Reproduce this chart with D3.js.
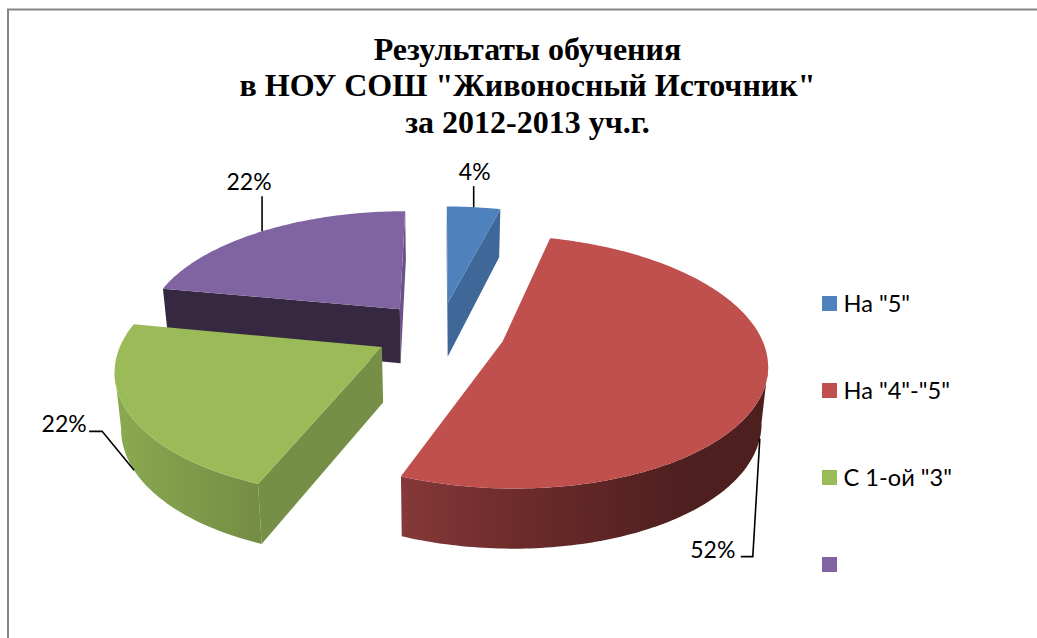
<!DOCTYPE html>
<html><head><meta charset="utf-8">
<style>html,body{margin:0;padding:0;background:#fff}svg{display:block}</style>
<script src="https://cdn.jsdelivr.net/npm/d3@7"></script></head>
<body><svg id="c" width="1037" height="638"></svg>
<script>
const titleLines = ['Результаты обучения','в НОУ СОШ "Живоносный Источник"','за 2012-2013 уч.г.'];
const categories = ['На "5"','На "4"-"5"','С 1-ой "3"',''];
const values = [4,52,22,22];
const topColors = ['#4F81BD','#C0504D','#9BBB59','#8064A2'];
const startFaceColors = ['#3F6797','#843838','#768F46','#372842'];
const endFaceColors = ['#3F6797','#843838','#6A5186','#6A5186'];
const wallStops = [
  [['#3F6797',0],['#3F6797',1]],
  [['#853939',0],['#6E2C2B',.3],['#4E1F1F',.78],['#4E1F1F',1]],
  [['#8AAA50',0],['#748C44',1]],
  [['#372842',0],['#372842',1]]
];

const svg=d3.select('#c');
const Cx=440,Cy=332,R=257,EXPL=65,TILT=.468,K=.159,LVL=.98,DEPTH=55,DEPTHK=.14;
const sum=d3.sum(values);
const arcs=d3.pie().sort(null).value(d=>d)(values);
const mids=arcs.map(a=>(a.startAngle+a.endAngle)/2);

function project(i,angle,r,bottom){
  const m=mids[i];
  const wx=EXPL*Math.sin(m)+R*r*Math.sin(angle);
  const wy=-EXPL*Math.cos(m)-R*r*Math.cos(angle);
  const Y=wy/R, s=1/(1-K*Y);
  let px=Cx+wx*s, py=Cy+TILT*wy*s;
  if(bottom){px=Cx+(px-Cx)*LVL; py=Cy+(py-Cy)*LVL+DEPTH*(1+DEPTHK*Y);}
  return [px,py];
}
const line=d3.line();
const STEP=Math.PI/180;
function rim(i,bottom){
  const n=Math.ceil((arcs[i].endAngle-arcs[i].startAngle)/STEP);
  return d3.range(n+1).map(j=>project(i,arcs[i].startAngle+(arcs[i].endAngle-arcs[i].startAngle)*j/n,1,bottom));
}
// one path of the outward wall quads that face the viewer (top rim running leftwards)
function wallPath(i){
  const t=rim(i,false), b=rim(i,true);
  let d='';
  for(let j=0;j<t.length-1;j++){
    if(t[j+1][0]<t[j][0]) d+=line([t[j],t[j+1],b[j+1],b[j]])+'Z';
  }
  return d;
}
const defs=svg.append('defs');
wallStops.forEach((st,i)=>{
  const pts=rim(i,false).concat(rim(i,true));
  const ext=d3.extent(pts,p=>p[0]);
  const g=defs.append('linearGradient').attr('id','w'+i).attr('gradientUnits','userSpaceOnUse')
    .attr('x1',ext[0]).attr('x2',ext[1]).attr('y1',0).attr('y2',0);
  st.forEach(s=>g.append('stop').attr('offset',s[1]).attr('stop-color',s[0]));
});

// frame
svg.append('path').attr('d',line([[8,638],[8,9.5],[1037,9.5]])).attr('fill','none').attr('stroke','#868686').attr('stroke-width',2);

// title
svg.append('g').selectAll('text').data(titleLines).join('text')
  .attr('x',527.5).attr('y',(d,i)=>59.5+i*36.7).attr('text-anchor','middle')
  .attr('font-family','"Liberation Serif"').attr('font-weight','bold').attr('font-size',32).attr('fill','#000')
  .text(d=>d);

// slices back to front
const order=d3.range(values.length).sort((a,b)=>(-Math.cos(mids[a]))-(-Math.cos(mids[b])));
const pieG=svg.append('g');
order.forEach(i=>{
  const g=pieG.append('g');
  const a=arcs[i];
  const apexT=project(i,0,0,false), apexB=project(i,0,0,true);
  const sT=project(i,a.startAngle,1,false), sB=project(i,a.startAngle,1,true);
  const eT=project(i,a.endAngle,1,false), eB=project(i,a.endAngle,1,true);
  const endFace=[apexT,eT,eB,apexB], startFace=[apexT,sT,sB,apexB];
  g.append('path').attr('d',wallPath(i)).attr('fill',`url(#w${i})`);
  if(d3.polygonArea(endFace)<0) g.append('path').attr('d',line(endFace)+'Z').attr('fill',endFaceColors[i]);
  if(d3.polygonArea(startFace)>0) g.append('path').attr('d',line(startFace)+'Z').attr('fill',startFaceColors[i]);
  g.append('path').attr('d',line([apexT].concat(rim(i,false)))+'Z').attr('fill',topColors[i]);
});

// data labels and leader lines
const labelFont='Lato, "Open Sans"', labelSize=23, legendSize=23.6;
const labelAnchors=[
 {i:0,bottom:false,elbow:[[0,-21]],tx:1,ty:-36},
 {i:1,bottom:true,elbow:[[-7,118],[-19,118]],tx:-47,ty:110},
 {i:2,bottom:true,elbow:[[-32,-39],[-45,-39]],tx:-70,ty:-47},
 {i:3,bottom:false,elbow:[[0,-35]],tx:-13,ty:-50}
];
const fmt=d3.format('.0%');
const lab=svg.append('g').attr('font-family',labelFont).attr('font-size',labelSize).attr('fill','#000');
labelAnchors.forEach(l=>{
  const p=project(l.i,mids[l.i],1,l.bottom);
  const pts=[p].concat(l.elbow.map(e=>[p[0]+e[0],p[1]+e[1]]));
  lab.append('path').attr('d',line(pts)).attr('fill','none').attr('stroke','#000').attr('stroke-width',1.6);
  lab.append('text').attr('x',p[0]+l.tx).attr('y',p[1]+l.ty).attr('text-anchor','middle').attr('dominant-baseline','central').text(fmt(values[l.i]/sum));
});

// legend
const legY=d3.scalePoint().domain(d3.range(categories.length)).range([303.5,564.5]);
const leg=svg.append('g').selectAll('g').data(categories).join('g').attr('transform',(d,i)=>`translate(822,${legY(i)})`);
leg.append('rect').attr('x',0).attr('y',-7.5).attr('width',15).attr('height',15).attr('fill',(d,i)=>topColors[i]);
leg.append('text').attr('x',21.5).attr('y',-1).attr('dominant-baseline','central').attr('font-family',labelFont).attr('font-size',legendSize).attr('fill','#000').text(d=>d);
</script></body></html>
